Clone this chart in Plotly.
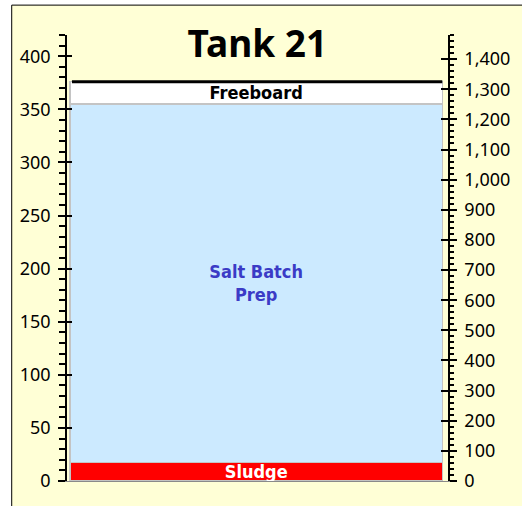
import plotly.graph_objects as go

# tank level segments, bottom to top (left axis units)
segment_names = ["Sludge", "Salt Batch Prep", "Freeboard"]
segment_labels = ["Sludge", "Salt Batch<br>Prep", "Freeboard"]
segment_heights = [17.4, 337.6, 21.0]

left_range = [0, 420]
right_range = [0, 1480]

seg_colors = ["#ff0000", "#cceaff", "#ffffff"]
seg_text_colors = ["#ffffff", "#3b3bc6", "#000000"]

label_font = "DejaVu Sans Condensed, DejaVu Sans, sans-serif"
tick_font = dict(family="Noto Sans, sans-serif", size=18, color="black")

bar_offset = -0.492
bar_width = 0.977

fig = go.Figure()
for name, lab, h, c, tc in zip(segment_names, segment_labels, segment_heights,
                               seg_colors, seg_text_colors):
    fig.add_trace(go.Bar(
        x=["Tank 21"], y=[h], name=name,
        text=[lab], textposition="inside", insidetextanchor="middle",
        textangle=0, constraintext="none", cliponaxis=False,
        textfont=dict(family=label_font, size=18, color=tc, weight="bold"),
        marker=dict(color=c, line=dict(color="#c4c4c4", width=1.5)),
        offset=bar_offset, width=bar_width,
        hoverinfo="name+y",
    ))

# empty traces so the extra y axes get drawn
for ax in ["y2", "y3", "y4"]:
    fig.add_trace(go.Scatter(x=["Tank 21"], y=[None], yaxis=ax, mode="markers",
                             showlegend=False, hoverinfo="skip"))

# tank top line
fig.add_shape(type="line", xref="x", yref="y",
              x0=bar_offset + 0.005, x1=bar_offset + bar_width,
              y0=sum(segment_heights), y1=sum(segment_heights),
              line=dict(color="black", width=3))

# frame around the chart
fig.add_shape(type="rect", xref="paper", yref="paper",
              x0=-0.1451, x1=1.3, y0=-0.3, y1=1.067,
              fillcolor="#ffffd6", line=dict(color="black", width=1),
              layer="below")

fig.update_layout(
    barmode="stack",
    showlegend=False,
    width=522, height=506,
    margin=dict(l=67, r=69, t=35, b=25),
    paper_bgcolor="white",
    plot_bgcolor="rgba(0,0,0,0)",
    title=dict(text="Tank 21", x=0.493, xanchor="center",
               y=0.912, yanchor="middle",
               font=dict(family="Noto Sans, DejaVu Sans, sans-serif",
                         size=37, color="black", weight="bold")),
    xaxis=dict(range=[-0.5, 0.5], showticklabels=False, ticks="",
               showgrid=False, zeroline=False,
               showline=True, linecolor="#8a8a8a", linewidth=1),
    yaxis=dict(range=left_range, dtick=50, ticks="outside", ticklen=7,
               tickwidth=1.5, tickcolor="black", showgrid=False,
               zeroline=False, showline=True, linecolor="black", linewidth=1.5,
               tickfont=tick_font, ticklabelstandoff=4,
               minor=dict(dtick=10, ticks="outside", ticklen=6,
                          tickwidth=1.5, tickcolor="black")),
    yaxis2=dict(range=right_range, dtick=100, overlaying="y", side="right",
                ticks="outside", ticklen=7, tickwidth=1.5, tickcolor="black",
                tickformat=",", showgrid=False, zeroline=False,
                showline=True, linecolor="black", linewidth=1.5,
                tickfont=tick_font, ticklabelstandoff=4,
                minor=dict(dtick=20, ticks="outside", ticklen=4,
                           tickwidth=1.5, tickcolor="black")),
    # inner halves of the major ticks
    yaxis3=dict(range=left_range, dtick=50, overlaying="y", side="left",
                ticks="inside", ticklen=5, tickwidth=1.5, tickcolor="black",
                showticklabels=False, showgrid=False, zeroline=False,
                showline=False),
    yaxis4=dict(range=right_range, dtick=100, overlaying="y", side="right",
                ticks="inside", ticklen=7, tickwidth=1.5, tickcolor="black",
                showticklabels=False, showgrid=False, zeroline=False,
                showline=False),
)

fig.write_html("out.html", config={"displayModeBar": False},
               post_script="document.body.style.margin = '0';")
